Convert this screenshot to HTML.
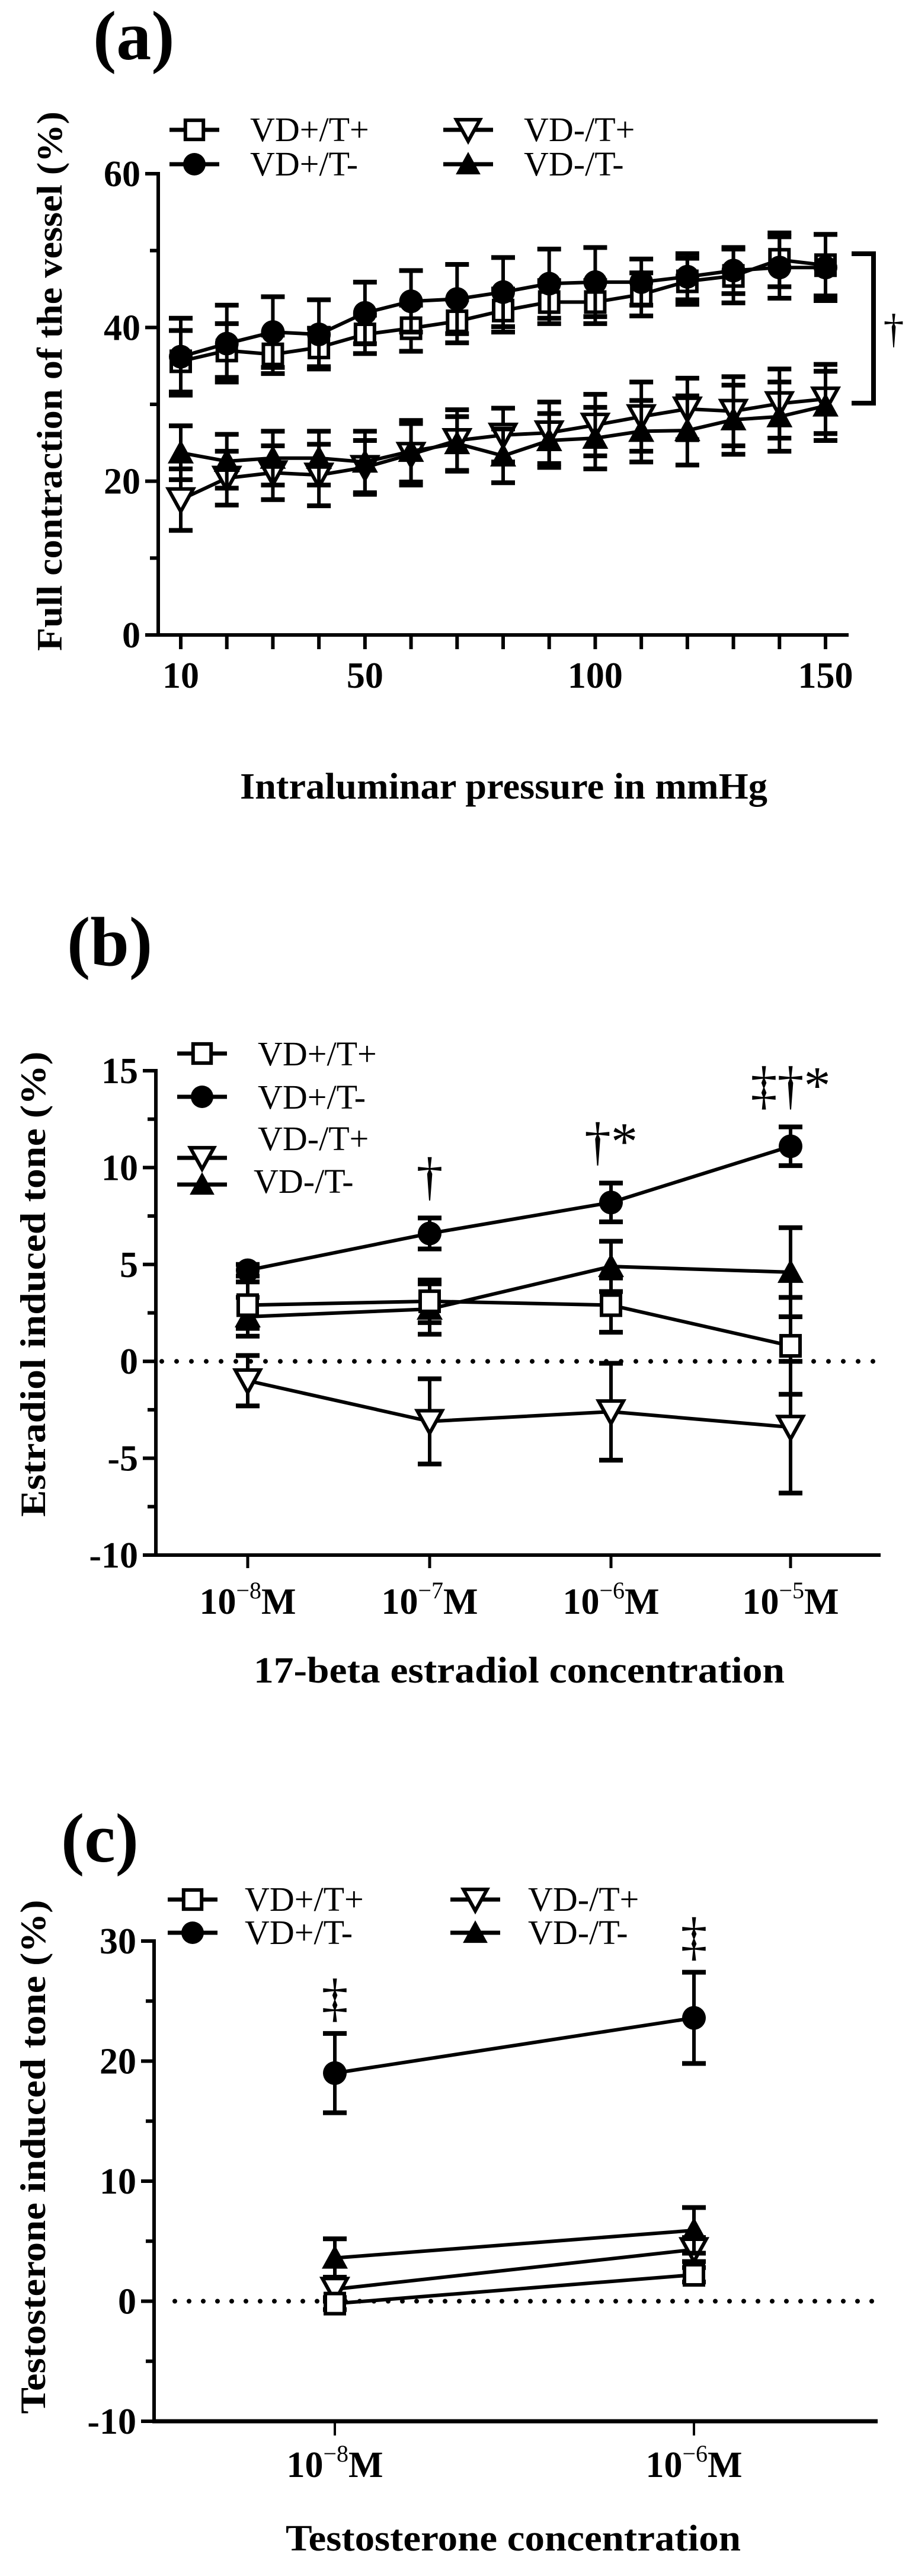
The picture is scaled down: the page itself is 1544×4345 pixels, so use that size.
<!DOCTYPE html>
<html><head><meta charset="utf-8"><title>Vessel tone figure</title>
<style>
html,body{margin:0;padding:0;background:#fff;}
svg{display:block;}
text{font-family:"Liberation Serif","DejaVu Serif",serif;fill:#000;}
</style></head>
<body>
<svg id="fig" width="1544" height="4345" viewBox="0 0 1544 4345" xmlns="http://www.w3.org/2000/svg"></svg>
<script>
// ---------- Panel (a) data ----------
const aPressures = [10,20,30,40,50,60,70,80,90,100,110,120,130,140,150];
const aTickLabels = [10,50,100,150];
const aYTicks = [0,20,40,60];
const aSqMean = [35.6,37,36.5,37.4,39.1,39.9,40.8,42.2,43.3,43.3,44.3,46,46.7,48.8,48.1];
const aSqErr  = [4,3.5,2.5,2.5,2.5,3,2.8,2.8,2.8,2.8,2.8,3,3.5,3.5,4];
const aCiMean = [36.2,37.9,39.4,39.1,41.9,43.4,43.7,44.6,45.7,45.9,45.9,46.6,47.4,47.8,47.8];
const aCiErr  = [5,5,4.6,4.5,4,4,4.5,4.5,4.5,4.5,3,3,3,4,4.3];
const aItMean = [17.6,20.4,21.1,20.8,21.8,23.5,25.3,26,26.3,27.3,28.4,29.4,29.1,30.1,30.7];
const aItErr  = [4,3.5,3.5,4,3.5,4,4,3.5,4,4,4.5,4,4.5,4.5,4.5];
const aTrMean = [23.7,22.6,23,23,22.5,23.9,24.9,23.3,25.3,25.6,26.5,26.6,28,28.4,29.8];
const aTrErr  = [3.5,3.5,3.5,3.5,4,4,3.5,3.5,3.5,4,4,4.5,4.5,4.5,4.5];

// ---------- Panel (b) data ----------
const bCategories = ["-8","-7","-6","-5"];
const bYTicks = [-10,-5,0,5,10,15];
const bSqMean = [2.9,3.1,2.9,0.8];
const bSqErr  = [1.2,1.1,1.4,2.5];
const bCiMean = [4.7,6.6,8.2,11.1];
const bCiErr  = [0.3,0.8,1.0,1.0];
const bItMean = [-1.0,-3.1,-2.6,-3.4];
const bItErr  = [1.3,2.2,2.5,3.4];
const bTrMean = [2.3,2.7,4.9,4.6];
const bTrErr  = [1.0,1.3,1.3,2.3];
const bAnnotations = ["","†","†*","‡†*"];

// ---------- Panel (c) data ----------
const cCategories = ["-8","-6"];
const cYTicks = [-10,0,10,20,30];
const cSqMean = [-0.2,2.2];
const cSqErr  = [0.5,0.6];
const cCiMean = [19.0,23.6];
const cCiErr  = [3.3,3.8];
const cItMean = [1.0,4.3];
const cItErr  = [1.0,1.0];
const cTrMean = [3.6,5.9];
const cTrErr  = [1.6,1.9];
const cAnnotations = ["‡","‡"];

const NS = "http://www.w3.org/2000/svg";
const svg = document.getElementById('fig');
function el(tag, attrs, parent){
  const e = document.createElementNS(NS, tag);
  for (const k in attrs) e.setAttribute(k, attrs[k]);
  (parent||svg).appendChild(e);
  return e;
}
function group(name, parent){
  const g = el('g', {}, parent);
  
  
  return g;
}
function marker(kind, x, y, parent, s){
  s = s || 1;
  let m;
  if (kind === 'sq') m = el('rect', {x:x-16*s, y:y-17*s, width:32*s, height:34*s, fill:'#fff', stroke:'#000', 'stroke-width':6}, parent);
  else if (kind === 'ci') m = el('circle', {cx:x, cy:y, r:20*s, fill:'#000'}, parent);
  else if (kind === 'it') m = el('polygon', {points:`${x-21*s},${y-18*s} ${x+21*s},${y-18*s} ${x},${y+20*s}`, fill:'#fff', stroke:'#000', 'stroke-width':6, 'stroke-linejoin':'miter'}, parent);
  else m = el('polygon', {points:`${x-22*s},${y+18*s} ${x+22*s},${y+18*s} ${x},${y-22*s}`, fill:'#000'}, parent);
  return m;
}
function drawSeries(name, kind, xs, means, errs, xf, yf, parent){
  const g = group(name, parent);
  // error bars
  xs.forEach((xv,i)=>{
    const x = xf(xv, i), y1 = yf(means[i]+errs[i]), y2 = yf(means[i]-errs[i]);
    const eg = el('g', {}, g);
    
    
    el('line', {x1:x, x2:x, y1:y1, y2:y2, stroke:'#000', 'stroke-width':6}, eg);
    el('line', {x1:x-20, x2:x+20, y1:y1, y2:y1, stroke:'#000', 'stroke-width':8}, eg);
    el('line', {x1:x-20, x2:x+20, y1:y2, y2:y2, stroke:'#000', 'stroke-width':8}, eg);
  });
  const pts = xs.map((xv,i)=>xf(xv,i)+','+yf(means[i])).join(' ');
  const pl = el('polyline', {points:pts, fill:'none', stroke:'#000', 'stroke-width':6, 'stroke-linejoin':'round'}, g);
  
  
  xs.forEach((xv,i)=>{
    const m = marker(kind, xf(xv,i), yf(means[i]), g);
    
    
  });
}
function legendEntry(kind, label, mx, my, tx, ty, parent){
  const g = el('g', {}, parent);
  
  
  el('line', {x1:mx-42, x2:mx+42, y1:my, y2:my, stroke:'#000', 'stroke-width':7}, g);
  marker(kind, mx, my, g, 0.95);
  const t = el('text', {x:tx, y:ty, 'font-size':58}, g);
  t.textContent = label;
}
function yAxis(name, ax, yf, ticks, minorTicks, top, bottom, parent){
  const g = group(name, parent);
  el('line', {x1:ax, x2:ax, y1:top-3, y2:bottom+3, stroke:'#000', 'stroke-width':6}, g);
  ticks.forEach(v=>{
    el('line', {x1:ax-22, x2:ax, y1:yf(v), y2:yf(v), stroke:'#000', 'stroke-width':6}, g);
    const t = el('text', {x:ax-30, y:yf(v)+21, 'font-size':62, 'font-weight':'bold', 'text-anchor':'end'}, g);
    
    
    t.textContent = v < 0 ? '-' + Math.abs(v) : String(v);
  });
  minorTicks.forEach(v=>{
    el('line', {x1:ax-14, x2:ax, y1:yf(v), y2:yf(v), stroke:'#000', 'stroke-width':6}, g);
  });
}
function yTitle(name, text, x, cy, len){
  const t = el('text', {x:0, y:0, 'font-size':60, 'font-weight':'bold', 'text-anchor':'middle', textLength:len, lengthAdjust:'spacingAndGlyphs', transform:`translate(${x},${cy}) rotate(-90)`});
  
  
  t.textContent = text;
}
function xTitle(name, text, cx, y, len){
  const t = el('text', {x:cx, y:y, 'font-size':62, 'font-weight':'bold', 'text-anchor':'middle', textLength:len, lengthAdjust:'spacingAndGlyphs'});
  
  
  t.textContent = text;
}
function panelLabel(name, text, x, y){
  const t = el('text', {x:x, y:y, 'font-size':118, 'font-weight':'bold'});
  
  
  t.textContent = text;
}
function concLabel(x, y, exp, parent){
  const t = el('text', {x:x, y:y, 'font-size':62, 'font-weight':'bold', 'text-anchor':'middle'}, parent);
  
  
  const a = el('tspan', {}, t); a.textContent = '10';
  const b = el('tspan', {dy:-26, 'font-size':40, 'font-weight':'normal'}, t); b.textContent = '−' + exp.replace('-','');
  const c = el('tspan', {dy:26}, t); c.textContent = 'M';
}

// ================= Panel A =================
(function(){
  const P = group('panel-a');
  const ax = 267, y0 = 1071, y60 = 293;
  const yf = v => y0 - (v/60)*(y0-y60);
  const xf = v => 305 + (v-10)*(1393-305)/140;
  panelLabel('panel-a-label', '(a)', 157, 100);
  yAxis('y-axis-a', ax, yf, aYTicks, [10,30,50], y60, y0, P);
  const xg = group('x-axis-a', P);
  el('line', {x1:ax-22, x2:1432, y1:y0, y2:y0, stroke:'#000', 'stroke-width':6}, xg);
  aPressures.forEach(v=>{ el('line', {x1:xf(v), x2:xf(v), y1:y0, y2:y0+24, stroke:'#000', 'stroke-width':6}, xg); });
  aTickLabels.forEach(v=>{
    const t = el('text', {x:xf(v), y:1160, 'font-size':62, 'font-weight':'bold', 'text-anchor':'middle'}, xg);
    
    
    t.textContent = v;
  });
  yTitle('y-axis-title-a', 'Full contraction of the vessel (%)', 104, 643, 910);
  xTitle('x-axis-title-a', 'Intraluminar pressure in mmHg', 850, 1347, 890);
  drawSeries('series-vd-neg-t-pos', 'it', aPressures, aItMean, aItErr, xf, yf, P);
  drawSeries('series-vd-neg-t-neg', 'tr', aPressures, aTrMean, aTrErr, xf, yf, P);
  drawSeries('series-vd-pos-t-pos', 'sq', aPressures, aSqMean, aSqErr, xf, yf, P);
  drawSeries('series-vd-pos-t-neg', 'ci', aPressures, aCiMean, aCiErr, xf, yf, P);
  const lg = group('legend-a', P);
  legendEntry('sq', 'VD+/T+', 328, 219, 422, 238, lg);
  legendEntry('ci', 'VD+/T-', 328, 277, 422, 296, lg);
  legendEntry('it', 'VD-/T+', 790, 219, 884, 238, lg);
  legendEntry('tr', 'VD-/T-', 790, 277, 884, 296, lg);
  const bg = group('significance-bracket-a', P);
  el('polyline', {points:'1437,428 1474,428 1474,680 1437,680', fill:'none', stroke:'#000', 'stroke-width':8}, bg);
  const d = el('text', {x:1508, y:578, 'font-size':70, 'text-anchor':'middle'}, bg); d.textContent = '†';
})();

// ================= Panel B =================
(function(){
  const P = group('panel-b');
  const ax = 263, yTop = 1806, yBot = 2623;
  const yf = v => yBot - (v+10)*(yBot-yTop)/25;
  const catX = [418,725,1031,1334];
  const xf = (v,i) => catX[i];
  panelLabel('panel-b-label', '(b)', 113, 1628);
  yAxis('y-axis-b', ax, yf, bYTicks, [-7.5,-2.5,2.5,7.5,12.5], yTop, yBot, P);
  const xg = group('x-axis-b', P);
  el('line', {x1:ax-3, x2:1486, y1:yBot, y2:yBot, stroke:'#000', 'stroke-width':6}, xg);
  bCategories.forEach((c,i)=>{
    el('line', {x1:xf(c,i), x2:xf(c,i), y1:yBot, y2:yBot+22, stroke:'#000', 'stroke-width':5}, xg);
    concLabel(xf(c,i), 2722, c, xg);
  });
  // zero dotted line
  const zl = el('line', {x1:ax+10, x2:1480, y1:yf(0), y2:yf(0), stroke:'#000', 'stroke-width':8, 'stroke-dasharray':'0 25', 'stroke-linecap':'round'}, P);
  
  
  yTitle('y-axis-title-b', 'Estradiol induced tone (%)', 76, 2166, 785);
  xTitle('x-axis-title-b', '17-beta estradiol concentration', 876, 2838, 896);
  drawSeries('series-vd-neg-t-pos', 'it', bCategories, bItMean, bItErr, xf, yf, P);
  drawSeries('series-vd-neg-t-neg', 'tr', bCategories, bTrMean, bTrErr, xf, yf, P);
  drawSeries('series-vd-pos-t-pos', 'sq', bCategories, bSqMean, bSqErr, xf, yf, P);
  drawSeries('series-vd-pos-t-neg', 'ci', bCategories, bCiMean, bCiErr, xf, yf, P);
  const ag = group('significance-marks-b', P);
  bAnnotations.forEach((s,i)=>{
    if (!s) return;
    const top = yf(bCiMean[i] + bCiErr[i]) - 40;
    const t = el('text', {x:catX[i], y:top, 'font-size':90, 'text-anchor':'middle'}, ag);
    t.textContent = s;
  });
  const lg = group('legend-b', P);
  legendEntry('sq', 'VD+/T+', 341, 1777, 435, 1797, lg);
  legendEntry('ci', 'VD+/T-', 341, 1850, 435, 1870, lg);
  const t3 = el('text', {x:435, y:1940, 'font-size':58}, lg); t3.textContent = 'VD-/T+';
  
  
  el('line', {x1:299, x2:383, y1:1953, y2:1953, stroke:'#000', 'stroke-width':7}, lg);
  marker('it', 341, 1953, lg, 0.95);
  legendEntry('tr', 'VD-/T-', 341, 1998, 428, 2012, lg);
})();

// ================= Panel C =================
(function(){
  const P = group('panel-c');
  const ax = 260, yTop = 3274, yBot = 4084;
  const yf = v => yBot - (v+10)*(yBot-yTop)/40;
  const catX = [565,1171];
  const xf = (v,i) => catX[i];
  panelLabel('panel-c-label', '(c)', 103, 3140);
  yAxis('y-axis-c', ax, yf, cYTicks, [-5,5,15,25], yTop, yBot, P);
  const xg = group('x-axis-c', P);
  el('line', {x1:ax-3, x2:1481, y1:yBot, y2:yBot, stroke:'#000', 'stroke-width':7}, xg);
  cCategories.forEach((c,i)=>{
    el('line', {x1:xf(c,i), x2:xf(c,i), y1:yBot, y2:yBot+24, stroke:'#000', 'stroke-width':4}, xg);
    concLabel(xf(c,i), 4178, c, xg);
  });
  const zl = el('line', {x1:ax+35, x2:1480, y1:yf(0), y2:yf(0), stroke:'#000', 'stroke-width':8, 'stroke-dasharray':'0 24', 'stroke-linecap':'round'}, P);
  
  
  yTitle('y-axis-title-c', 'Testosterone induced tone (%)', 76, 3638, 867);
  xTitle('x-axis-title-c', 'Testosterone concentration', 866, 4302, 768);
  drawSeries('series-vd-neg-t-pos', 'it', cCategories, cItMean, cItErr, xf, yf, P);
  drawSeries('series-vd-neg-t-neg', 'tr', cCategories, cTrMean, cTrErr, xf, yf, P);
  drawSeries('series-vd-pos-t-pos', 'sq', cCategories, cSqMean, cSqErr, xf, yf, P);
  drawSeries('series-vd-pos-t-neg', 'ci', cCategories, cCiMean, cCiErr, xf, yf, P);
  const ag = group('significance-marks-c', P);
  cAnnotations.forEach((s,i)=>{
    const top = yf(cCiMean[i] + cCiErr[i]) - 30;
    const t = el('text', {x:catX[i], y:top, 'font-size':90, 'text-anchor':'middle'}, ag);
    t.textContent = s;
  });
  const lg = group('legend-c', P);
  legendEntry('sq', 'VD+/T+', 325, 3204, 413, 3223, lg);
  legendEntry('ci', 'VD+/T-', 325, 3260, 413, 3279, lg);
  legendEntry('it', 'VD-/T+', 802, 3204, 891, 3223, lg);
  legendEntry('tr', 'VD-/T-', 802, 3260, 891, 3279, lg);
})();
</script>
</body></html>
